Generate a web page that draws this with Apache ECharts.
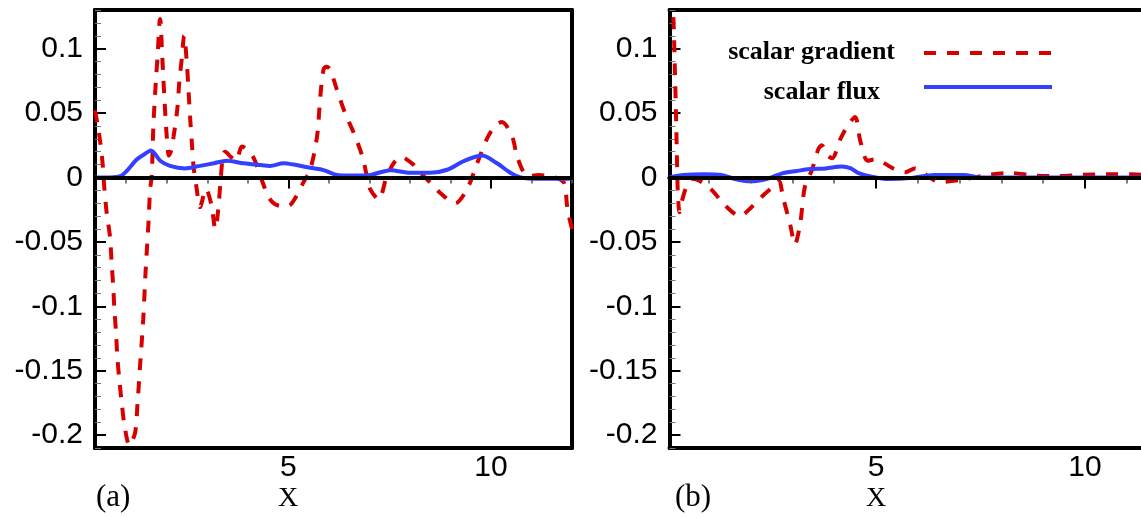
<!DOCTYPE html>
<html>
<head>
<meta charset="utf-8">
<script src="https://cdn.jsdelivr.net/npm/echarts@6/dist/echarts.min.js"></script>
<style>
  html, body { margin: 0; padding: 0; background: #fff; }
  #chart { width: 1141px; height: 518px; }
</style>
</head>
<body>
<div id="chart"></div>
<script>
// ---- panel (a) ----
const gradAX = [0.23, 0.30, 0.36, 0.42, 0.46, 0.52, 0.60, 0.64, 0.68, 0.71, 0.75, 0.78, 0.83, 0.89, 0.96, 1.08,
  1.22, 1.28, 1.34, 1.42, 1.48, 1.55, 1.59, 1.63, 1.67, 1.73, 1.78, 1.82, 1.84, 1.88, 1.94, 2.00, 2.05, 2.10,
  2.17, 2.26, 2.31, 2.37, 2.43, 2.50, 2.54, 2.58, 2.62, 2.66, 2.74, 2.82, 2.97, 3.10, 3.20, 3.27, 3.33, 3.39,
  3.44, 3.58, 3.71, 3.86, 4.13, 4.31, 4.55, 4.80, 5.00, 5.17, 5.37, 5.54, 5.71, 5.79, 5.87, 5.94, 6.03, 6.20,
  6.40, 6.61, 6.82, 6.94, 7.02, 7.23, 7.43, 7.62, 7.78, 8.05, 8.25, 8.50, 8.75, 9.12, 9.41, 9.66, 9.90, 10.10,
  10.27, 10.52, 10.64, 10.81, 10.97, 11.17, 11.34, 11.59, 11.80, 11.89, 12.0];
const gradAY = [0.052, 0.040, 0.027, 0.010, -0.008, -0.028, -0.046, -0.066, -0.085, -0.103, -0.121, -0.139, -0.157, -0.175, -0.193, -0.208,
  -0.198, -0.175, -0.147, -0.110, -0.072, -0.035, -0.009, 0.001, 0.040, 0.074, 0.097, 0.120, 0.123, 0.100, 0.063, 0.032, 0.017, 0.020,
  0.032, 0.053, 0.074, 0.092, 0.110, 0.087, 0.066, 0.045, 0.027, 0.009, -0.009, -0.023, -0.009, -0.021, -0.040, -0.025, -0.002, 0.018,
  0.020, 0.016, 0.013, 0.024, 0.016, 0.001, -0.017, -0.022, -0.022, -0.016, -0.004, 0.006, 0.032, 0.063, 0.084, 0.086, 0.084, 0.068,
  0.050, 0.035, 0.017, 0.001, -0.009, -0.017, 0.001, 0.012, 0.016, 0.011, 0.004, -0.004, -0.012, -0.020, -0.009, 0.011, 0.030, 0.040,
  0.043, 0.032, 0.017, 0.004, 0.001, 0.002, 0.0015, 0.0, -0.004, -0.025, -0.040];

const fluxAX = [0.23, 0.60, 0.85, 1.01, 1.26, 1.45, 1.61, 1.84, 2.08, 2.45, 2.82, 3.16, 3.48, 3.89, 4.31, 4.55, 4.88,
  5.13, 5.54, 5.87, 6.20, 6.45, 6.94, 7.52, 8.01, 8.50, 8.92, 9.33, 9.78, 10.15, 10.48, 10.73, 11.2, 12.0];
const fluxAY = [0, 0, 0.001, 0.005, 0.014, 0.018, 0.021, 0.013, 0.009, 0.007, 0.009, 0.011, 0.013, 0.011, 0.0096, 0.009, 0.011,
  0.010, 0.0075, 0.0057, 0.002, 0.0016, 0.0016, 0.0057, 0.0036, 0.0036, 0.006, 0.0127, 0.017, 0.011, 0.0036, 0, -0.001, -0.001];

// ---- panel (b) ----
const gradBX = [0.08, 0.15, 0.19, 0.22, 0.24, 0.26, 0.30, 0.36, 0.48, 0.62, 0.85, 1.08, 1.40, 1.75, 1.99, 2.30, 2.58, 2.68,
  2.78, 2.95, 3.06, 3.19, 3.30, 3.47, 3.62, 3.70, 3.85, 3.95, 4.15, 4.30, 4.50, 4.62, 4.80, 4.98, 5.20, 5.41, 5.70, 5.93,
  6.20, 6.51, 7.01, 7.68, 8.21, 8.76, 9.30, 9.90, 10.48, 11.08, 11.40];
const gradBY = [0.16, 0.126, 0.082, 0.043, 0.012, -0.012, -0.027, -0.018, -0.006, -0.001, -0.004, -0.010, -0.022, -0.030, -0.024, -0.014, -0.006, -0.003,
  -0.016, -0.037, -0.052, -0.035, -0.007, 0.006, 0.022, 0.025, 0.017, 0.015, 0.030, 0.039, 0.047, 0.029, 0.013, 0.014, 0.011, 0.007, 0.004, 0.007,
  0.002, -0.0035, -0.002, 0.002, 0.0035, 0.0016, 0.001, 0.002, 0.0025, 0.0025, 0.002];

const fluxBX = [0.06, 0.4, 0.9, 1.3, 1.6, 2.0, 2.4, 2.74, 3.1, 3.42, 3.8, 4.18, 4.4, 4.57, 4.9, 5.3, 5.8, 6.4, 7.1, 7.5, 11.4];
const fluxBY = [0, 0.002, 0.0025, 0.002, -0.001, -0.003, -0.001, 0.003, 0.005, 0.0065, 0.007, 0.0085, 0.007, 0.0035, 0.0006, -0.0012, -0.0005, 0.002, 0.002, 0, 0];

// ---- ticks and labels ----
const yMajor = [-0.2, -0.15, -0.1, -0.05, 0, 0.05, 0.1];
const yMinor = [-0.21, -0.19, -0.18, -0.17, -0.16, -0.14, -0.13, -0.12, -0.11, -0.09, -0.08, -0.07, -0.06,
  -0.04, -0.03, -0.02, -0.01, 0.01, 0.02, 0.03, 0.04, 0.06, 0.07, 0.08, 0.09, 0.11, 0.12, 0.13];
const xMajor = [5, 10];
const xMinor = [1, 2, 3, 4, 6, 7, 8, 9, 11, 12];
const seriesNames = ['scalar gradient', 'scalar flux'];

const zip = (xs, ys) => xs.map((x, i) => [x, ys[i]]);

const BLACK = '#000';
const RED = '#d60000';
const BLUE = '#3340ff';
const frameLine = { show: true, onZero: false, lineStyle: { color: BLACK, width: 4 } };

function xAxesFor(gridIndex, min, max) {
  return [
    { // bottom frame with labels
      gridIndex, type: 'value', min, max, position: 'bottom',
      axisLine: frameLine, axisTick: { show: false }, splitLine: { show: false },
      axisLabel: { customValues: xMajor, fontSize: 30, fontFamily: 'Liberation Sans', color: BLACK, margin: 5 }
    },
    { // top frame
      gridIndex, type: 'value', min, max, position: 'top',
      axisLine: frameLine, axisTick: { show: false }, axisLabel: { show: false }, splitLine: { show: false }
    },
    { // zero line, minor ticks
      gridIndex, type: 'value', min, max, position: 'bottom', z: 5,
      axisLine: { show: true, onZero: true, lineStyle: { color: BLACK, width: 4 } },
      axisTick: { show: true, inside: false, customValues: xMinor, length: 6, lineStyle: { color: '#555', width: 1.5 } },
      axisLabel: { show: false }, splitLine: { show: false }
    },
    { // zero line, major ticks
      gridIndex, type: 'value', min, max, position: 'bottom', z: 6,
      axisLine: { show: true, onZero: true, lineStyle: { color: BLACK, width: 4 } },
      axisTick: { show: true, inside: false, customValues: xMajor, length: 11, lineStyle: { color: BLACK, width: 2 } },
      axisLabel: { show: false }, splitLine: { show: false }
    }
  ];
}

function yAxesFor(gridIndex, withRight) {
  const axes = [
    { // left axis, major ticks and labels
      gridIndex, type: 'value', min: -0.21, max: 0.13, position: 'left',
      axisLine: frameLine,
      axisTick: { show: true, inside: true, customValues: yMajor, length: 11, lineStyle: { color: BLACK, width: 2 } },
      axisLabel: {
        customValues: yMajor, fontSize: 30, fontFamily: 'Liberation Sans', color: BLACK, margin: 12,
        formatter: v => String(+(+v).toFixed(3))
      },
      splitLine: { show: false }
    },
    { // left axis, minor ticks
      gridIndex, type: 'value', min: -0.21, max: 0.13, position: 'left',
      axisLine: frameLine,
      axisTick: { show: true, inside: true, customValues: yMinor, length: 6, lineStyle: { color: '#777', width: 1 } },
      axisLabel: { show: false }, splitLine: { show: false }
    }
  ];
  if (withRight) {
    axes.push({
      gridIndex, type: 'value', min: -0.21, max: 0.13, position: 'right',
      axisLine: frameLine, axisTick: { show: false }, axisLabel: { show: false }, splitLine: { show: false }
    });
  }
  return axes;
}

function gradSeries(xIdx, yIdx, data) {
  return {
    name: seriesNames[0], type: 'line', xAxisIndex: xIdx, yAxisIndex: yIdx, data,
    symbol: 'none', smooth: 0.3, clip: true, z: 3,
    lineStyle: { color: RED, width: 4, type: [12, 11] }, itemStyle: { color: RED }
  };
}
function fluxSeries(xIdx, yIdx, data) {
  return {
    name: seriesNames[1], type: 'line', xAxisIndex: xIdx, yAxisIndex: yIdx, data,
    symbol: 'none', smooth: 0.3, clip: true, z: 4,
    lineStyle: { color: BLUE, width: 4 }, itemStyle: { color: BLUE }
  };
}

const legendFont = {
  fontFamily: 'Liberation Serif', fontWeight: 'bold', fontSize: 26, color: BLACK
};
// line-only legend keys: the marker circle is hidden, the stroke keeps the series width
const legendBase = {
  right: 87, align: 'right', orient: 'vertical',
  itemWidth: 128, itemHeight: 80, padding: 0, selectedMode: false,
  itemStyle: { opacity: 0 },
  lineStyle: { width: 4 },
  formatter: name => '{t|' + name + '}'
};

const option = {
  animation: false,
  backgroundColor: '#fff',
  grid: [
    { left: 95, top: 10, width: 477, height: 438, containLabel: false },
    { left: 669.5, top: 10, right: 0, height: 438, containLabel: false }
  ],
  xAxis: [...xAxesFor(0, 0.23, 12), ...xAxesFor(1, 0.06, 11.34)],
  yAxis: [...yAxesFor(0, true), ...yAxesFor(1, false)],
  legend: [
    Object.assign({}, legendBase, {
      data: [seriesNames[0]], top: 21,
      textStyle: Object.assign({ rich: { t: Object.assign({ padding: [0, 24, 2, 0] }, legendFont) } }, legendFont)
    }),
    Object.assign({}, legendBase, {
      data: [seriesNames[1]], top: 55,
      textStyle: Object.assign({ rich: { t: Object.assign({ padding: [10, 39, 0, 0] }, legendFont) } }, legendFont)
    })
  ],
  graphic: [
    { type: 'text', x: 96, y: 498, style: { text: '(a)', font: '31px "Liberation Serif"', fill: BLACK, verticalAlign: 'middle' } },
    { type: 'text', x: 288, y: 499, style: { text: 'X', font: '28px "Liberation Serif"', fill: BLACK, align: 'center', verticalAlign: 'middle' } },
    { type: 'text', x: 675, y: 498, style: { text: '(b)', font: '31px "Liberation Serif"', fill: BLACK, verticalAlign: 'middle' } },
    { type: 'text', x: 876, y: 499, style: { text: 'X', font: '28px "Liberation Serif"', fill: BLACK, align: 'center', verticalAlign: 'middle' } }
  ],
  series: [
    gradSeries(0, 0, zip(gradAX, gradAY)),
    fluxSeries(0, 0, zip(fluxAX, fluxAY)),
    gradSeries(4, 3, zip(gradBX, gradBY)),
    fluxSeries(4, 3, zip(fluxBX, fluxBY))
  ]
};

const chart = echarts.init(document.getElementById('chart'));
chart.setOption(option);
</script>
</body>
</html>
